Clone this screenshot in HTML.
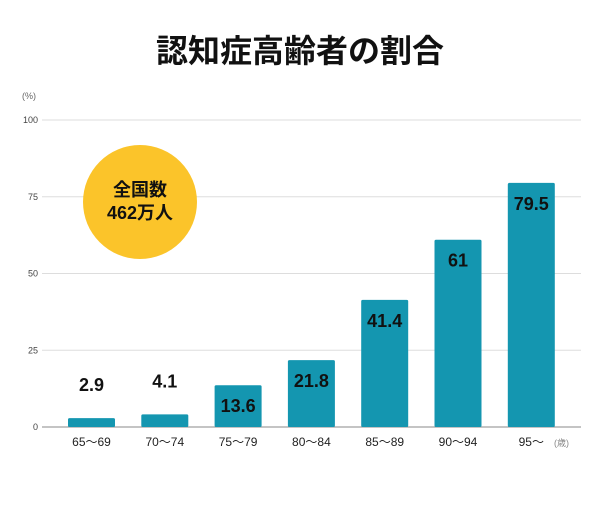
<!DOCTYPE html>
<html><head><meta charset="utf-8"><style>
body{margin:0;background:#fff;}
svg text{font-family:"Liberation Sans","Noto Sans CJK JP",sans-serif;}
</style></head><body>
<svg width="600" height="500" id="c">
<text x="300" y="62" text-anchor="middle" font-size="32" font-weight="bold" fill="#111">認知症高齢者の割合</text>
<text x="22" y="99" font-size="9" fill="#666">(%)</text>
<text x="554" y="446" font-size="9" fill="#888">(歳)</text>
<g id="grid"></g><g id="bars"></g>
<circle cx="140" cy="202" r="57" fill="#fbc42a"/>
<text x="140" y="196" text-anchor="middle" font-size="18" font-weight="bold" fill="#111">全国数</text>
<text x="140" y="219" text-anchor="middle" font-size="18" font-weight="bold" fill="#111">462万人</text>
</svg>
<script>
const categories=["65〜69","70〜74","75〜79","80〜84","85〜89","90〜94","95〜"];
const values=[2.9,4.1,13.6,21.8,41.4,61,79.5];
const labels=["2.9","4.1","13.6","21.8","41.4","61","79.5"];
const ticks=[0,25,50,75,100];
const NS="http://www.w3.org/2000/svg";
const y=v=>427-v*3.07;
const x=i=>68+i*73.3;
const bw=47;
function mk(t,a,p){const e=document.createElementNS(NS,t);for(const k in a)e.setAttribute(k,a[k]);p.appendChild(e);return e;}
const g=document.getElementById('grid'),b=document.getElementById('bars');
ticks.forEach(t=>{
 const l=mk('line',{x1:42,x2:581,y1:y(t),y2:y(t),stroke:t===0?'#888':'#ddd','stroke-width':1},g);
 
 
 const tx=mk('text',{x:38,y:y(t)+3,'text-anchor':'end','font-size':9,fill:'#444'},g);
 tx.textContent=t;
 
 
});
values.forEach((v,i)=>{
 const r=mk('rect',{x:x(i),y:y(v),width:bw,height:y(0)-y(v),fill:'#1496b0',rx:1.5},b);
 
 
 const inside=v>=10;
 const t=mk('text',{x:x(i)+bw/2,y:inside?y(v)+27:y(v)-27,'text-anchor':'middle','font-size':18,'font-weight':'bold',fill:'#111'},b);
 t.textContent=labels[i];
 
 
 const c=mk('text',{x:x(i)+bw/2,y:446,'text-anchor':'middle','font-size':12,fill:'#222'},b);
 c.textContent=categories[i];
 
 
});
</script>
</body></html>
